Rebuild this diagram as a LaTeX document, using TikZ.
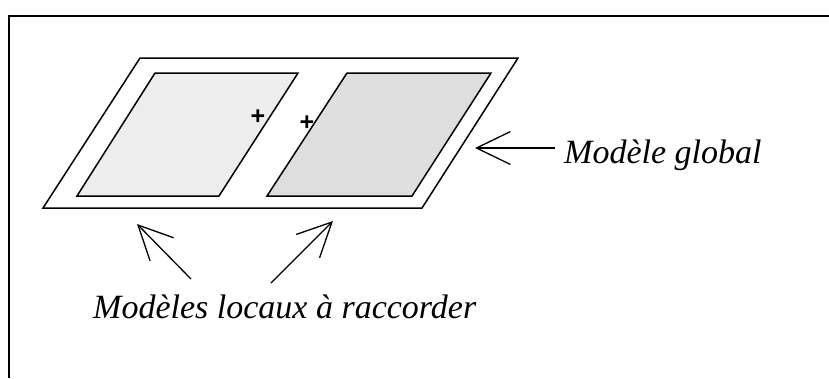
\documentclass[tikz,border=0pt]{standalone}
\usepackage{fontspec}
\setmainfont{Liberation Serif}
\newfontfamily\plusfont{Liberation Sans}
\usetikzlibrary{arrows.meta}
\begin{document}
\begin{tikzpicture}[x=1pt,y=-1pt,
  frameline/.style={line width=1.7pt},
  outerpanel/.style={draw,line width=1.5pt,line join=miter,fill=white},
  leftpanel/.style={draw,line width=1.5pt,line join=miter,fill=black!7},
  rightpanel/.style={draw,line width=1.5pt,line join=miter,fill=black!13},
  arrowline/.style={line width=1.3pt,-{Straight Barb[length=34pt,width=33pt,line width=1.3pt]}},
  caption/.style={font=\fontsize{34}{40}\selectfont\itshape,inner sep=0pt,anchor=base west},
  plussign/.style={font=\plusfont\bfseries\fontsize{25}{28}\selectfont,inner sep=0pt}]
\useasboundingbox (0,0) rectangle (829,378);
\draw[frameline] (9,378) -- (9,16) -- (829,16);
% parallelograms
\draw[outerpanel] (43,208) -- (140,58) -- (518,58) -- (422,208) -- cycle;
\draw[leftpanel] (77,196) -- (155,73) -- (298,73) -- (219,196) -- cycle;
\draw[rightpanel] (267,196) -- (347,73) -- (491,73) -- (412,196) -- cycle;
% plus marks
\node[plussign] (p1) at (258,117) {+};
\node[plussign] (p2) at (307,123) {+};
% labels
\node[caption] (global) at (564,163) {Modèle global};
\node[caption] (locaux) at (93,318) {Modèles locaux à raccorder};
% arrows
\coordinate (gtail) at (555,148);
\coordinate (gtip) at (475,148);
\draw[arrowline] (gtail) -- (gtip);
\coordinate (ltail) at (191,279);
\coordinate (ltip) at (137,224);
\draw[arrowline] (ltail) -- (ltip);
\coordinate (rtail) at (271,283);
\coordinate (rtip) at (333,221);
\draw[arrowline] (rtail) -- (rtip);
\end{tikzpicture}
\end{document}
